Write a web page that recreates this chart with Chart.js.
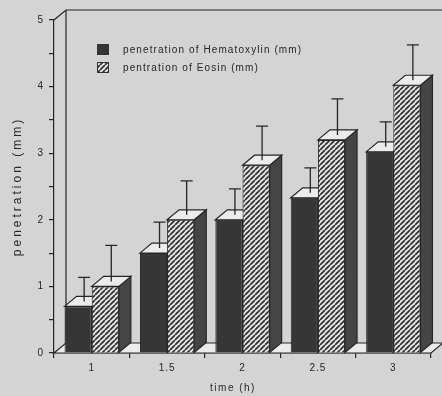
<!DOCTYPE html>
<html>
<head>
<meta charset="utf-8">
<script src="https://cdn.jsdelivr.net/npm/chart.js@4/dist/chart.umd.min.js"></script>
<style>
html,body{margin:0;padding:0;background:#d4d4d4;}
#wrap{width:442px;height:396px;}
</style>
</head>
<body>
<div id="wrap"><canvas id="c" width="442" height="396"></canvas></div>
<script>
const categories = ['1', '1.5', '2', '2.5', '3'];
const hemValues = [0.7, 1.5, 2.0, 2.33, 3.02];
const eosValues = [1.0, 2.0, 2.82, 3.2, 4.02];
const hemErrors = [0.36, 0.39, 0.39, 0.375, 0.375];
const eosErrors = [0.54, 0.51, 0.51, 0.54, 0.53];
const seriesLabels = ['penetration of Hematoxylin (mm)', 'pentration of Eosin (mm)'];
const yMin = 0, yMax = 5;

const BG = '#d4d4d4', INK = '#262626', DARK = '#363636', LIGHT = '#ececec';
const DX = 12, DY = 10;
const FONT = '"Liberation Sans", Arial, sans-serif';

function hatch() {
  const c = document.createElement('canvas');
  c.width = 5; c.height = 5;
  const g = c.getContext('2d');
  g.fillStyle = '#e6e6e6'; g.fillRect(0, 0, 5, 5);
  g.strokeStyle = '#303030'; g.lineWidth = 1.7;
  g.beginPath();
  for (let k = -5; k <= 10; k += 5) { g.moveTo(k, 5); g.lineTo(k + 5, 0); }
  g.stroke();
  return g.createPattern(c, 'repeat');
}
const hatchPattern = hatch();

function poly(ctx, pts, fill) {
  ctx.beginPath();
  ctx.moveTo(pts[0][0], pts[0][1]);
  for (let i = 1; i < pts.length; i++) ctx.lineTo(pts[i][0], pts[i][1]);
  ctx.closePath();
  if (fill) { ctx.fillStyle = fill; ctx.fill(); }
  ctx.strokeStyle = INK; ctx.lineWidth = 1.2; ctx.stroke();
}

const errs = [hemErrors, eosErrors];
const vals = [hemValues, eosValues];

const plugin3d = {
  id: 'plugin3d',
  beforeDraw(chart) {
    const ctx = chart.ctx;
    ctx.save();
    ctx.fillStyle = BG; ctx.fillRect(0, 0, chart.width, chart.height);
    ctx.restore();
    ctx.letterSpacing = '1px';
  },
  beforeDatasetsDraw(chart) {
    const ctx = chart.ctx, a = chart.chartArea;
    ctx.save();
    ctx.strokeStyle = INK; ctx.lineWidth = 1.2;
    ctx.beginPath();
    ctx.moveTo(a.left, a.top); ctx.lineTo(a.left + DX, a.top - DY); ctx.lineTo(chart.width + 5, a.top - DY);
    ctx.moveTo(a.left + DX, a.top - DY); ctx.lineTo(a.left + DX, a.bottom - DY);
    ctx.stroke();
    poly(ctx, [[a.left, a.bottom], [a.left + DX, a.bottom - DY], [a.right + DX, a.bottom - DY], [a.right, a.bottom]], LIGHT);
    for (let j = 0; j < categories.length; j++) {
      for (let d = 0; d < 2; d++) {
        const el = chart.getDatasetMeta(d).data[j];
        const x0 = el.x - el.width / 2, x1 = el.x + el.width / 2;
        const yt = el.y, yb = el.base;
        poly(ctx, [[x1, yt], [x1 + DX, yt - DY], [x1 + DX, yb - DY], [x1, yb]], '#454545');
        poly(ctx, [[x0, yt], [x0 + DX, yt - DY], [x1 + DX, yt - DY], [x1, yt]], LIGHT);
      }
    }
    ctx.restore();
  },
  afterDatasetsDraw(chart) {
    const ctx = chart.ctx, a = chart.chartArea, ys = chart.scales.y;
    ctx.save();
    ctx.strokeStyle = INK; ctx.lineWidth = 1.3;
    for (let d = 0; d < 2; d++) {
      chart.getDatasetMeta(d).data.forEach((el, j) => {
        const cx = el.x + DX / 2;
        const y0 = el.y - DY / 2;
        const y1 = ys.getPixelForValue(vals[d][j] + errs[d][j]) - DY / 2;
        ctx.beginPath();
        ctx.moveTo(cx, y0); ctx.lineTo(cx, y1);
        ctx.moveTo(cx - 6, y1); ctx.lineTo(cx + 6, y1);
        ctx.stroke();
      });
    }
    ctx.lineWidth = 1;
    const fills = [DARK, hatchPattern];
    ctx.font = '10px ' + FONT; ctx.fillStyle = INK; ctx.textBaseline = 'middle';
    ctx.letterSpacing = '1.1px';
    for (let d = 0; d < 2; d++) {
      const by = 44 + d * 18;
      ctx.fillStyle = fills[d]; ctx.fillRect(97, by, 12, 11);
      ctx.strokeStyle = '#333'; ctx.strokeRect(97.5, by + 0.5, 11, 10);
      ctx.fillStyle = INK; ctx.fillText(seriesLabels[d], 123, by + 6);
    }
    ctx.font = '12px ' + FONT;
    ctx.textAlign = 'center';
    ctx.letterSpacing = '3px';
    ctx.save();
    ctx.translate(18, (a.top + a.bottom) / 2);
    ctx.rotate(-Math.PI / 2);
    ctx.fillText('penetration (mm)', 0, 0);
    ctx.restore();
    ctx.font = '10px ' + FONT;
    ctx.letterSpacing = '1.5px';
    ctx.fillText('time (h)', 233, 388);
    ctx.restore();
  }
};

new Chart(document.getElementById('c'), {
  type: 'bar',
  data: {
    labels: categories,
    datasets: [
      { label: seriesLabels[0], data: hemValues, backgroundColor: DARK, borderColor: INK, borderWidth: 1 },
      { label: seriesLabels[1], data: eosValues, backgroundColor: hatchPattern, borderColor: INK, borderWidth: 1 }
    ]
  },
  options: {
    responsive: false,
    animation: false,
    events: [],
    categoryPercentage: 0.72,
    barPercentage: 1.0,
    layout: { padding: { top: 20, right: 11, left: 0, bottom: 0 } },
    plugins: { legend: { display: false }, tooltip: { enabled: false } },
    scales: {
      x: {
        afterFit(s) { s.height = 43; },
        grid: { display: true, drawOnChartArea: false, tickLength: 5, color: INK, offset: true, lineWidth: 1.2 },
        border: { display: true, color: INK, width: 1.2 },
        ticks: { color: INK, font: { family: FONT, size: 10 }, padding: 4, maxRotation: 0 }
      },
      y: {
        min: yMin, max: yMax,
        afterFit(s) { s.width = 54; },
        grid: { display: true, drawOnChartArea: false, tickLength: 5, color: INK, lineWidth: 1.2 },
        border: { display: true, color: INK, width: 1.2 },
        ticks: {
          stepSize: 0.5, autoSkip: false, color: INK, font: { family: FONT, size: 10 }, padding: 5,
          callback: v => Number.isInteger(v) ? String(v) : ''
        }
      }
    }
  },
  plugins: [plugin3d]
});
</script>
</body>
</html>
